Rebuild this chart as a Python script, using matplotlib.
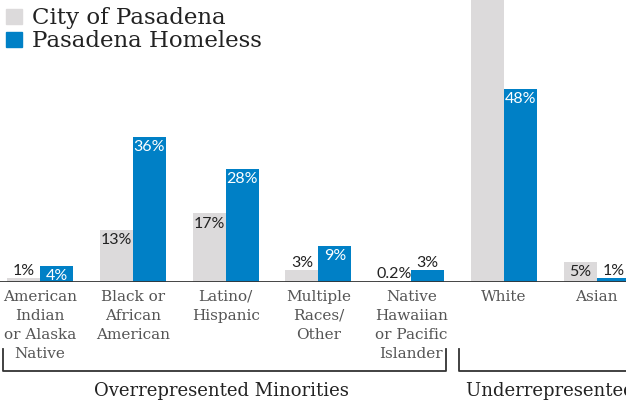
import matplotlib.pyplot as plt
from matplotlib.patches import Rectangle

# data
groups = ["American\nIndian\nor Alaska\nNative", "Black or\nAfrican\nAmerican", "Latino/\nHispanic",
          "Multiple\nRaces/\nOther", "Native\nHawaiian\nor Pacific\nIslander", "White", "Asian"]
city = [1, 13, 17, 3, 0.2, 76, 5]
homeless = [4, 36, 28, 9, 3, 48, 1]
city_labels = ["1%", "13%", "17%", "3%", "0.2%", "", "5%"]
homeless_labels = ["4%", "36%", "28%", "9%", "3%", "48%", "1%"]
bracket_titles = ["Overrepresented Minorities", "Underrepresented Groups"]

GREY = "#dcdadb"
BLUE = "#0080c6"
DARK = "#222222"
LABEL = "#555555"
SERIF = "DejaVu Serif"
SANS = "Lato"

W, H = 626, 402
fig = plt.figure(figsize=(W / 100, H / 100), dpi=100)
base_px = 283
ax = fig.add_axes([0, (H - base_px) / H, 1, base_px / H])
px_per_pct = 4.03
ax.set_ylim(0, base_px / px_per_pct)
step = 92.8
ax.set_xlim(-40 / step, (W - 40) / step)
ax.axis("off")

bw = 0.356
x = list(range(len(groups)))
ax.bar([i - bw / 2 for i in x], city, width=bw, color=GREY)
ax.bar([i + bw / 2 for i in x], homeless, width=bw, color=BLUE)
ax.axhline(0, color="#333333", lw=2)

def put_label(xpos, val, text, inside_color):
    if not text:
        return
    if val >= 4:
        ax.annotate(text, (xpos, val), xytext=(0, -1.5), textcoords="offset points",
                    ha="center", va="top", fontsize=11.5, family=SANS, color=inside_color)
    else:
        ax.annotate(text, (xpos, val), xytext=(0, 1), textcoords="offset points",
                    ha="center", va="bottom", fontsize=11.5, family=SANS, color=DARK)

for i in x:
    put_label(i - bw / 2, city[i], city_labels[i], DARK)
    put_label(i + bw / 2, homeless[i], homeless_labels[i], "white")

xt = ax.get_xaxis_transform()
for i, g in enumerate(groups):
    ax.text(i, -7 / base_px, g, transform=xt, ha="center", va="top", fontsize=11,
            family=SERIF, color=LABEL, linespacing=1.45, clip_on=False)

# brackets
top_y = -(350 - base_px) / base_px
bot_y = -(372 - base_px) / base_px
ax.plot([-0.40, -0.40, 4.38, 4.38], [top_y, bot_y, bot_y, top_y], transform=xt,
        color="#333333", lw=1.3, clip_on=False)
ax.plot([4.52, 4.52, 7.5], [top_y, bot_y, bot_y], transform=xt,
        color="#333333", lw=1.3, clip_on=False)
title_y = -(391 - base_px) / base_px
ax.text(1.96, title_y, bracket_titles[0], transform=xt, ha="center", va="center",
        fontsize=13, family=SERIF, color=DARK, clip_on=False)
ax.text(4.59, title_y, bracket_titles[1], transform=xt, ha="left", va="center",
        fontsize=13, family=SERIF, color=DARK, clip_on=False)

# legend
for k, (col, name) in enumerate([(GREY, "City of Pasadena"), (BLUE, "Pasadena Homeless")]):
    y0 = 10 + 23 * k
    fig.patches.append(Rectangle((6 / W, 1 - (y0 + 15) / H), 16 / W, 15 / H,
                                 transform=fig.transFigure, color=col))
    fig.text(32 / W, 1 - (y0 + 8) / H, name, ha="left", va="center", fontsize=16.5,
             family=SERIF, color=DARK)

fig.savefig("out.png", dpi=100)
